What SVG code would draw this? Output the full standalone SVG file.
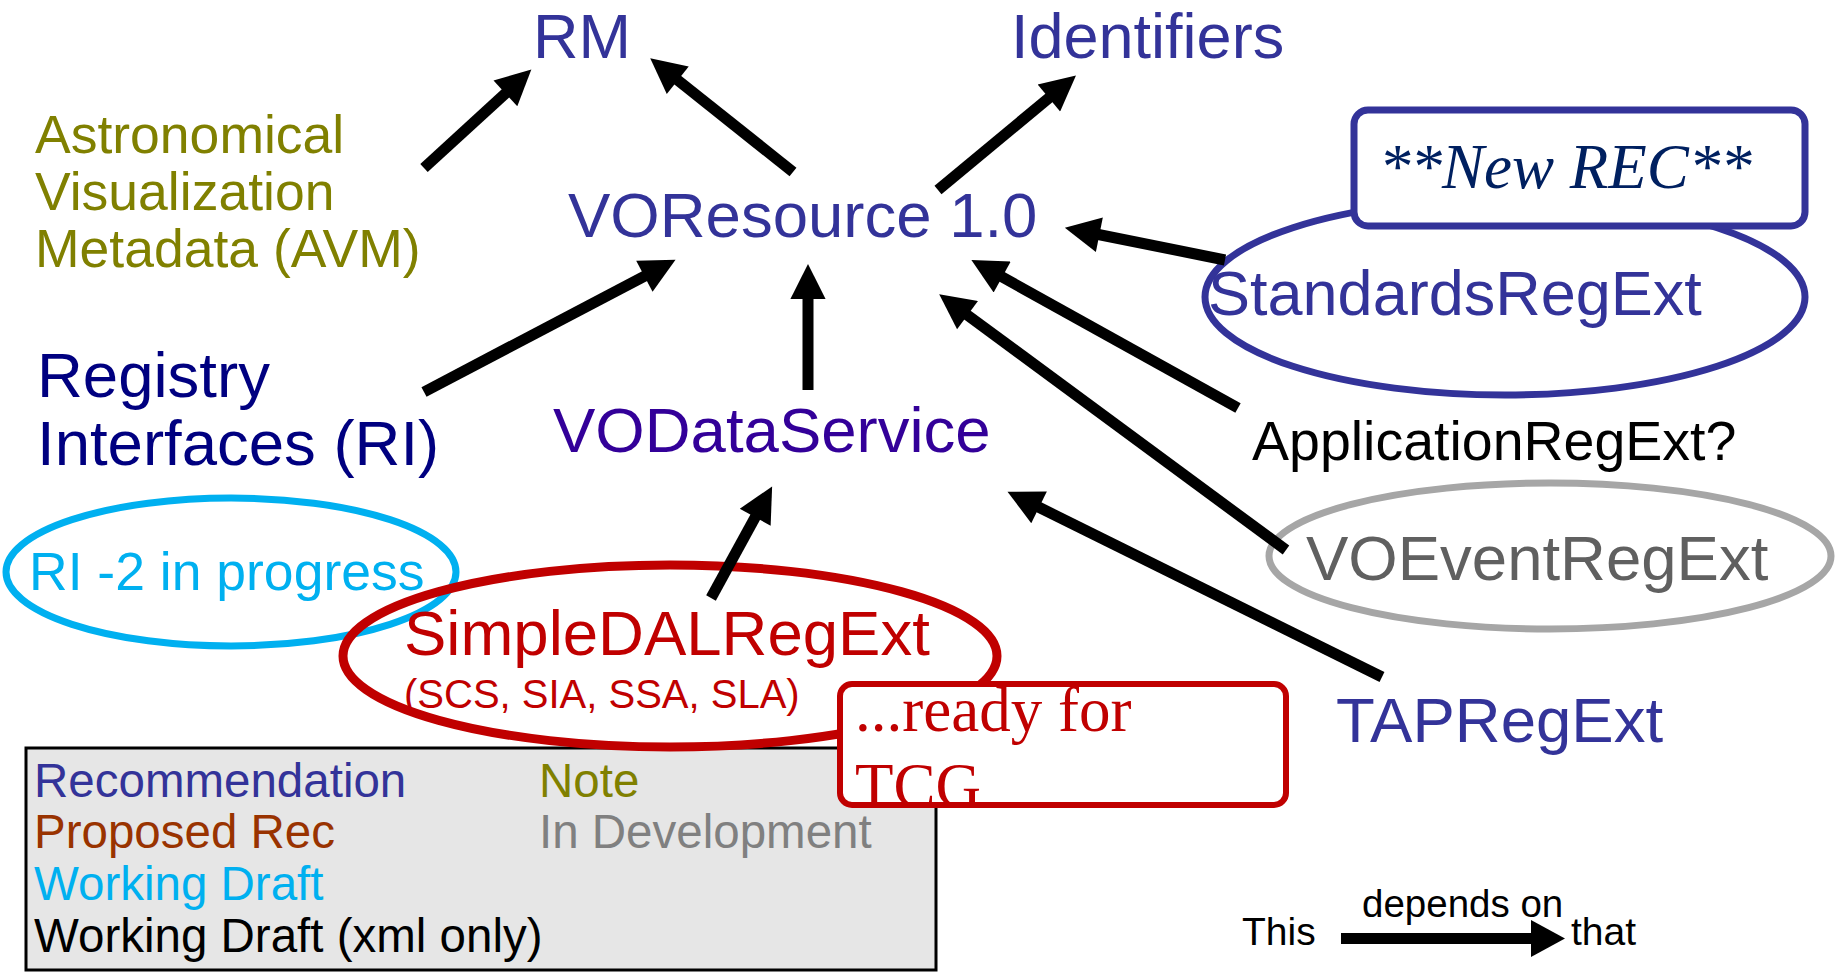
<svg xmlns="http://www.w3.org/2000/svg" width="1836" height="973" viewBox="0 0 1836 973">
<style>
text{font-family:"Liberation Sans",Arial,sans-serif}
.serif{font-family:"Liberation Serif","Times New Roman",serif}
.rec{fill:#333399}
.note{fill:#808000}
.conn line{stroke:#000;stroke-width:11;fill:none}
</style>
<defs>
<marker id="ah" viewBox="0 0 10 10" refX="1" refY="5" markerWidth="3.6" markerHeight="3.2" orient="auto" markerUnits="strokeWidth">
<path d="M0,0 L10,5 L0,10 z" fill="#000"/>
</marker>
</defs>
<rect width="1836" height="973" fill="#fff"/>

<g id="legend">
<rect x="26" y="748" width="910" height="222" fill="#e6e6e6" stroke="#000" stroke-width="3"/>
<text x="34" y="797" font-size="47.5" class="rec">Recommendation</text>
<text x="34" y="848" font-size="47.5" fill="#993300">Proposed Rec</text>
<text x="34" y="900" font-size="47.5" fill="#00b0f0">Working Draft</text>
<text x="34" y="952" font-size="47.5" fill="#000">Working Draft (xml only)</text>
<text x="539" y="797" font-size="47.5" class="note">Note</text>
<text x="539" y="848" font-size="47.5" fill="#808080">In Development</text>
</g>

<g id="RM"><text x="533" y="58" font-size="63" class="rec">RM</text></g>
<g id="Identifiers"><text x="1011" y="58" font-size="63" class="rec">Identifiers</text></g>
<g id="AVM">
<text x="35" y="153" font-size="53.5" class="note">Astronomical</text>
<text x="35" y="210" font-size="53.5" class="note">Visualization</text>
<text x="35" y="267" font-size="53.5" class="note">Metadata (AVM)</text>
</g>
<g id="VOResource"><text x="568" y="237" font-size="63.5" class="rec">VOResource 1.0</text></g>
<g id="RI">
<text x="37" y="397" font-size="63.5" fill="#000080">Registry</text>
<text x="37" y="465" font-size="63.5" fill="#000080">Interfaces (RI)</text>
</g>
<g id="VODataService"><text x="553" y="452" font-size="63.5" fill="#330099">VODataService</text></g>

<g id="StandardsRegExt">
<ellipse cx="1505" cy="297" rx="300" ry="98" fill="none" stroke="#333399" stroke-width="7"/>
<text x="1208" y="315" font-size="63" class="rec">StandardsRegExt</text>
</g>
<g id="NewREC">
<rect x="1354" y="110" width="451" height="116" rx="14" fill="#fff" stroke="#333399" stroke-width="7"/>
<text x="1379" y="188" font-size="63" class="serif" font-style="italic" fill="#002060">**New REC**</text>
</g>
<g id="ApplicationRegExt"><text x="1252" y="460" font-size="55.5" fill="#000">ApplicationRegExt?</text></g>
<g id="VOEventRegExt">
<ellipse cx="1550" cy="556" rx="281" ry="73" fill="none" stroke="#a6a6a6" stroke-width="7"/>
<text x="1306" y="580" font-size="63.5" fill="#606060">VOEventRegExt</text>
</g>
<g id="TAPRegExt"><text x="1336" y="742" font-size="63.5" class="rec">TAPRegExt</text></g>

<g id="RI2">
<ellipse cx="231" cy="572" rx="225" ry="74" fill="none" stroke="#00b0f0" stroke-width="7"/>
<text x="29" y="590" font-size="53.5" fill="#00b0f0">RI -2 in progress</text>
</g>
<g id="SimpleDALRegExt">
<ellipse cx="670" cy="656" rx="327" ry="91" fill="none" stroke="#c00000" stroke-width="9"/>
<text x="404" y="655" font-size="63.5" fill="#c00000">SimpleDALRegExt</text>
<text x="404" y="708" font-size="40" fill="#c00000">(SCS, SIA, SSA, SLA)</text>
</g>
<g id="ReadyTCG">
<rect x="840" y="684" width="446" height="121" rx="12" fill="#fff" stroke="#c00000" stroke-width="6"/>
<text x="855" y="731" font-size="63" class="serif" fill="#c00000">...ready for</text>
<text x="855" y="807" font-size="63" class="serif" fill="#c00000">TCG</text>
</g>

<g class="conn" id="connectors">
<line x1="424" y1="168" x2="508" y2="91" marker-end="url(#ah)"/>
<line x1="793" y1="172" x2="675" y2="78" marker-end="url(#ah)"/>
<line x1="424" y1="392" x2="647.5" y2="274.6" marker-end="url(#ah)"/>
<line x1="808" y1="390" x2="808" y2="295.6" marker-end="url(#ah)"/>
<line x1="938" y1="190" x2="1051.6" y2="95.7" marker-end="url(#ah)"/>
<line x1="1225" y1="260" x2="1095.9" y2="234" marker-end="url(#ah)"/>
<line x1="1238" y1="408" x2="999.1" y2="275.3" marker-end="url(#ah)"/>
<line x1="1286" y1="550" x2="964.7" y2="313.1" marker-end="url(#ah)"/>
<line x1="1382" y1="677" x2="1035.9" y2="505.8" marker-end="url(#ah)"/>
<line x1="711" y1="598" x2="756.9" y2="514.2" marker-end="url(#ah)"/>
</g>

<g id="key">
<text x="1242" y="945" font-size="39" fill="#000">This</text>
<text x="1362" y="917" font-size="38.5" fill="#000">depends on</text>
<text x="1571" y="945" font-size="39" fill="#000">that</text>
<rect x="1341" y="933" width="194" height="11" fill="#000"/>
<polygon points="1531,920 1565,938.5 1531,957" fill="#000"/>
</g>
</svg>
